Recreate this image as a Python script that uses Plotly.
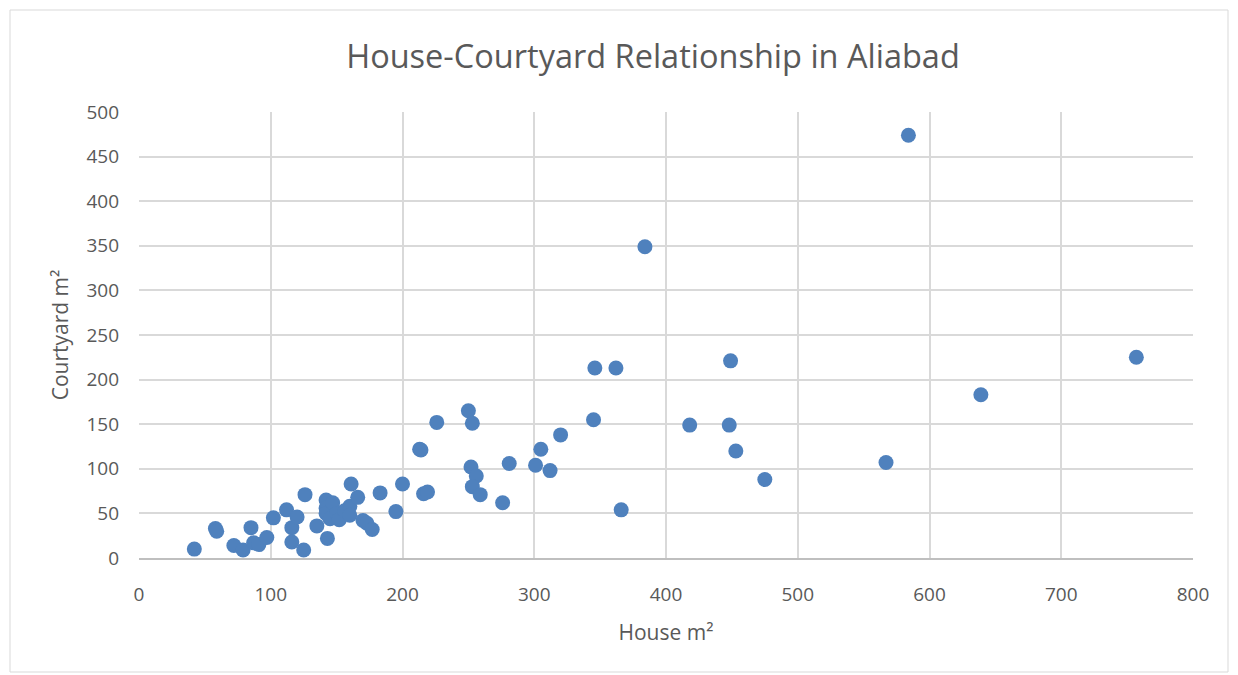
import plotly.graph_objects as go

house = [42, 58, 59, 72, 79, 85, 87, 91, 97, 102, 112, 116, 116, 120, 125, 126, 135,
         142, 142, 142, 143, 147, 145, 150, 152, 156, 160, 160, 161, 166, 170, 173, 177,
         183, 195, 200, 213, 214, 216, 219, 226, 250, 253, 252, 256, 253, 259, 276, 281,
         301, 305, 312, 320, 345, 346, 362, 366, 384, 418, 448, 449, 453, 475, 567, 584,
         639, 757]
courtyard = [10, 33, 30, 14, 9, 34, 17, 15, 23, 45, 54, 34, 18, 46, 9, 71, 36,
             65, 56, 50, 22, 62, 44, 50, 43, 53, 58, 48, 83, 68, 42, 39, 32,
             73, 52, 83, 122, 121, 72, 74, 152, 165, 151, 102, 92, 80, 71, 62, 106,
             104, 122, 98, 138, 155, 213, 213, 54, 349, 149, 149, 221, 120, 88, 107, 474,
             183, 225]

x_ticks = [0, 100, 200, 300, 400, 500, 600, 700, 800]
y_ticks = [0, 50, 100, 150, 200, 250, 300, 350, 400, 450, 500]

FONT = "Open Sans"
GREY = "#595959"

# page body has an 8px offset; figure coordinates are screen minus 8
W, H = 1230, 667
L, T, R, B = 131, 104, 45, 117
PW, PH = W - L - R, H - T - B

fig = go.Figure()
fig.add_trace(go.Scatter(
    x=house, y=courtyard, mode="markers",
    marker=dict(size=15, color="#4F81BD", line=dict(width=0)),
    showlegend=False, hoverinfo="x+y",
))

fig.update_layout(
    width=W, height=H,
    paper_bgcolor="white", plot_bgcolor="white",
    margin=dict(l=L, r=R, t=T, b=B),
    title=dict(text="House-Courtyard Relationship in Aliabad", x=645 / W, xanchor="center",
               y=1 - 49 / H, yanchor="middle",
               font=dict(family=FONT, size=32.5, color=GREY)),
    font=dict(family=FONT, color=GREY),
    xaxis=dict(range=[0, 800], tickvals=x_ticks, showgrid=True, gridcolor="#D9D9D9",
               gridwidth=1.5, zeroline=False, showline=True, linecolor="#BFBFBF", linewidth=1.5,
               ticks="", tickfont=dict(size=19, color=GREY), ticklabelstandoff=18,
               title=dict(text="House m²", font=dict(size=21, color=GREY), standoff=20),
               mirror=False),
    yaxis=dict(range=[0, 500], tickvals=y_ticks, showgrid=True, gridcolor="#D9D9D9",
               gridwidth=1.5, zeroline=False, showline=False,
               ticks="", tickfont=dict(size=19, color=GREY), ticklabelstandoff=19,
               title=dict(text="Courtyard m²", font=dict(size=21, color=GREY), standoff=12)),
    shapes=[dict(type="rect", xref="paper", yref="paper",
                 x0=(2 - L) / PW, x1=(1220 - L) / PW,
                 y0=(T + PH - 664) / PH, y1=(T + PH - 2) / PH,
                 line=dict(color="#D9D9D9", width=1), fillcolor="rgba(0,0,0,0)", layer="below")],
)

fig.write_html("out.html")
